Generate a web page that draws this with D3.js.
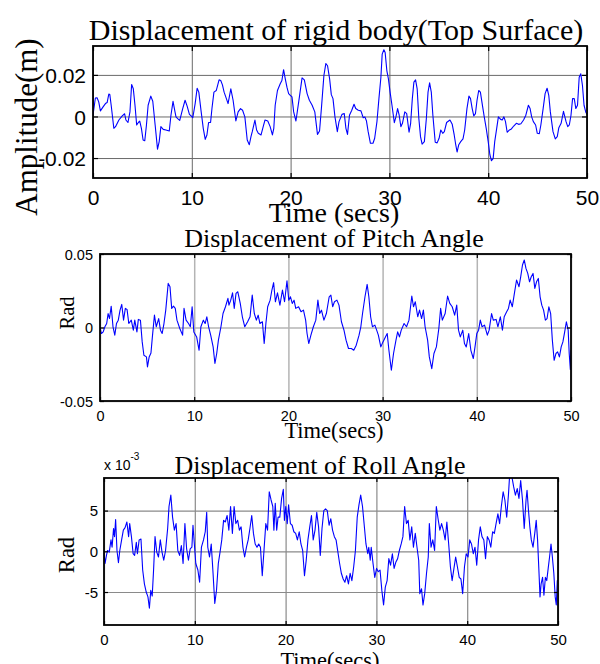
<!DOCTYPE html>
<html><head><meta charset="utf-8">
<script src="https://cdn.jsdelivr.net/npm/d3@7/dist/d3.min.js"></script>
<style>body{margin:0;background:#fff}svg{display:block}</style>
</head><body>
<svg id="chart" width="600" height="664"></svg>
<script>
// ---------- DATA ----------
// Top surface displacement, values in 1e-3 m
const topTime = [0.00,0.24,0.41,0.58,0.75,1.02,1.26,1.43,1.60,1.70,1.84,2.11,2.28,2.62,2.96,3.20,3.33,3.54,3.74,3.91,4.08,4.25,4.42,4.59,4.73,4.90,5.07,5.24,5.41,5.58,5.85,6.05,6.29,6.53,6.70,6.87,7.11,7.38,7.72,7.89,8.10,8.30,8.40,8.57,8.78,9.08,9.32,9.52,9.76,9.93,10.10,10.34,10.54,10.71,10.95,11.16,11.36,11.53,11.70,11.90,12.04,12.24,12.48,12.76,12.93,13.10,13.27,13.50,13.67,13.95,14.18,14.46,14.69,14.93,15.14,15.37,15.61,15.82,15.99,16.12,16.39,16.56,16.73,17.01,17.24,17.41,17.69,17.93,18.16,18.30,18.44,18.67,18.95,19.12,19.29,19.46,19.63,19.80,19.97,20.14,20.31,20.54,20.82,21.16,21.39,21.67,21.90,22.18,22.45,22.72,22.93,23.13,23.37,23.57,23.74,23.95,24.12,24.29,24.49,24.73,24.90,25.20,25.43,25.60,25.76,25.96,26.19,26.42,26.59,26.85,27.12,27.35,27.52,27.68,27.85,28.08,28.34,28.51,28.74,28.94,29.14,29.27,29.44,29.57,29.74,29.90,30.07,30.26,30.50,30.66,30.83,30.99,31.16,31.32,31.56,31.75,31.99,32.15,32.32,32.48,32.65,32.81,32.98,33.15,33.31,33.54,33.74,33.91,34.07,34.24,34.40,34.64,34.83,35.03,35.20,35.40,35.56,35.79,36.13,36.36,36.56,36.69,36.85,37.02,37.22,37.45,37.62,37.85,38.05,38.21,38.38,38.54,38.71,38.87,39.04,39.21,39.44,39.60,39.80,40.00,40.17,40.33,40.50,40.66,40.86,41.03,41.26,41.42,41.59,41.75,41.92,42.15,42.35,42.58,42.85,43.08,43.31,43.58,43.81,44.07,44.24,44.40,44.57,44.80,44.97,45.17,45.33,45.56,45.76,45.96,46.13,46.29,46.56,46.79,46.99,47.15,47.38,47.62,47.88,48.05,48.21,48.38,48.54,48.71,48.87,49.04,49.21,49.37,49.54,49.70,49.87,50.00];
const topDisp = [0.6,8.9,9.0,7.0,2.7,4.6,6.2,6.7,10.8,10.6,5.4,-5.7,-4.9,-1.7,0.3,1.3,-1.7,-2.9,2.2,15.4,13.3,5.4,-4.1,-2.9,-2.2,-5.7,-11.3,-11.7,-4.1,5.4,9.8,7.3,-4.1,-15.7,-12.1,-4.9,-6.2,-6.5,-7.0,0.6,7.3,2.2,-0.2,-1.0,-1.9,3.8,7.8,5.1,1.0,0.3,-0.6,6.2,13.6,11.7,2.2,-5.7,-11.0,-8.9,-2.9,-2.9,3.8,11.7,12.5,17.6,17.3,15.2,11.7,8.6,6.2,13.3,7.8,-2.1,2.2,3.8,3.0,-0.2,-11.3,-13.6,-9.7,-7.3,-1.7,-6.5,-8.1,-8.9,-4.6,-1.7,-2.2,-4.9,-8.9,-5.7,5.4,12.5,15.7,17.3,22.5,18.1,14.1,11.0,10.2,9.4,2.2,-2.2,7.0,18.6,17.6,11.0,7.8,5.4,2.2,-8.6,-7.0,4.6,19.7,25.5,24.4,18.1,10.5,8.6,-0.2,-7.3,-2.5,1.0,1.4,-5.7,-8.6,0.6,3.0,5.9,3.8,3.0,2.7,-0.6,-0.2,-2.2,-7.3,-12.9,-12.9,-10.5,-2.5,8.6,18.9,30.0,32.1,30.8,22.1,18.1,11.7,5.4,-3.0,-0.2,3.8,0.6,-4.9,-3.3,2.2,1.4,-7.6,-3.3,8.6,16.5,17.6,13.3,-1.0,-9.7,-13.3,-12.1,-1.0,11.7,16.2,11.7,0.6,-12.4,-12.7,-10.5,-6.5,-8.1,-7.3,-2.9,-1.7,-3.8,-8.9,-12.9,-17.1,-13.6,-12.1,-10.8,-6.5,3.8,9.8,8.6,3.8,0.3,1.4,7.8,12.5,11.7,4.6,-0.2,-5.7,-12.1,-18.4,-21.3,-20.3,-12.1,-5.7,-0.2,-1.4,-1.7,-0.2,-2.5,-7.6,-6.5,-6.0,-4.6,-3.3,-3.8,-3.5,-1.7,0.6,5.4,3.8,-0.2,-2.5,-4.1,-8.1,-8.3,-4.1,3.8,11.0,13.6,10.2,2.2,-7.3,-10.8,-9.7,-5.4,-3.3,2.5,-2.5,-4.9,-4.1,0.6,8.6,8.6,3.8,5.4,18.9,20.5,14.9,5.4,2.2,1.0];

// Pitch angle, values in 1e-3 rad
const pitchTime = [0.00,0.15,0.34,0.52,0.71,0.86,1.01,1.19,1.38,1.57,1.75,1.94,2.13,2.31,2.50,2.69,2.87,3.06,3.32,3.54,3.69,3.92,4.07,4.29,4.48,4.66,4.93,5.04,5.22,5.41,5.56,5.78,5.97,6.23,6.42,6.60,6.79,6.98,7.24,7.43,7.61,7.80,7.99,8.17,8.47,8.77,8.92,9.14,9.40,9.59,9.78,9.96,10.26,10.52,10.71,10.97,11.16,11.34,11.53,11.75,12.01,12.20,12.39,12.57,12.84,13.06,13.32,13.58,13.69,13.88,14.07,14.25,14.44,14.63,14.89,15.11,15.37,15.67,15.93,16.16,16.38,16.60,16.79,16.98,17.24,17.43,17.61,17.80,18.06,18.25,18.43,18.62,18.84,19.10,19.37,19.59,19.85,20.04,20.22,20.41,20.60,20.78,21.08,21.34,21.60,21.83,21.98,22.16,22.39,22.65,22.91,23.13,23.32,23.51,23.77,24.03,24.33,24.51,24.70,24.89,25.15,25.37,25.63,25.90,26.12,26.38,26.68,26.94,27.20,27.50,27.69,27.87,28.13,28.36,28.54,28.73,28.92,29.18,29.37,29.55,29.81,30.04,30.30,30.49,30.67,30.93,31.16,31.42,31.60,31.79,31.98,32.28,32.54,32.80,33.10,33.28,33.47,33.73,33.92,34.14,34.33,34.51,34.78,34.96,35.22,35.45,35.71,35.97,36.16,36.34,36.64,36.90,37.13,37.39,37.65,37.87,38.06,38.25,38.51,38.69,38.88,39.14,39.37,39.63,39.81,40.00,40.19,40.37,40.56,40.82,41.12,41.31,41.57,41.75,42.05,42.24,42.50,42.72,42.91,43.17,43.36,43.54,43.77,43.99,44.22,44.48,44.66,44.85,45.04,45.22,45.41,45.60,45.78,45.97,46.16,46.34,46.53,46.72,46.90,47.09,47.28,47.46,47.65,47.84,48.02,48.21,48.40,48.58,48.77,48.96,49.14,49.33,49.51,49.70,49.81,49.93,50.00];
const pitchAngle = [0,-4.1,-3.0,0.5,2.7,9.5,6.1,14.5,0.5,-5.2,2.7,5.0,11.8,15.7,5.0,13.0,12.3,2.7,5.0,-1.8,5.0,-3.0,5.5,5.0,-9.8,-18.9,-20.0,-26.8,-20.0,-17.3,-6.4,8.4,0.5,6.1,-1.8,-4.1,2.7,11.8,30.0,27.7,13.0,14.5,13.0,5.0,-0.7,-5.2,13.0,5.0,2.7,0.5,14.1,-3.0,-6.4,-15.5,0.5,5.0,2.7,7.3,0.5,-5.2,-13.2,-24.5,-17.7,-8.6,0.5,9.5,14.1,19.8,15.2,18.6,23.6,13.0,23.2,24.3,16.4,7.3,0.5,3.9,7.3,22.0,9.5,5.0,8.4,2.7,3.9,-10.9,2.7,14.1,18.6,25.5,30.5,17.5,23.6,15.2,25.5,17.5,31.8,18.6,20.9,16.4,18.6,13.0,14.1,10.7,11.8,5.0,-4.1,-10.9,-5.2,0.5,5.0,18.6,9.5,11.8,5.0,9.5,20.9,22.0,14.1,17.5,18.6,15.2,3.9,-1.8,-8.6,-14.3,-14.3,-15.5,-12.0,-5.2,0.5,9.5,20.9,29.3,20.9,7.3,0.5,1.6,-1.8,-5.2,-13.2,-9.8,-6.4,-4.1,-15.5,-29.1,-17.7,-8.6,-3.0,-6.4,-1.8,2.7,0.5,5.0,21.4,14.1,17.5,7.3,11.8,6.1,11.8,0.5,-8.6,-20.0,-28.0,-17.7,-13.2,-0.7,13.0,5.0,9.5,21.4,16.4,14.1,8.4,15.2,-1.8,-6.4,-1.8,-10.9,-13.2,-4.1,-15.5,-21.1,-13.2,-4.1,-1.8,5.0,0.5,1.6,-5.2,-1.8,9.5,5.0,5.5,0.5,7.3,-1.8,7.3,10.7,13.0,18.6,14.1,23.2,32.3,27.7,34.5,42.5,45.9,40.2,36.8,31.1,34.5,36.8,26.6,31.1,33.4,20.9,15.2,11.8,5.0,6.1,14.1,9.5,-8.6,-22.3,-17.7,-16.6,-20.0,-13.2,-9.8,-3.0,3.9,-1.8,-17.7,-28.6,-15.5];

// Roll angle, values in 1e-3 rad (axis shows x 10^-3)
const rollTime = [0.00,0.12,0.27,0.39,0.58,0.77,0.89,1.05,1.16,1.28,1.43,1.59,1.74,1.94,2.13,2.32,2.52,2.71,2.83,3.02,3.21,3.37,3.56,3.68,3.87,4.07,4.26,4.45,4.65,4.84,5.00,5.15,5.31,5.46,5.62,5.81,6.00,6.20,6.39,6.58,6.78,7.01,7.16,7.36,7.55,7.75,7.94,8.13,8.33,8.52,8.71,8.91,9.10,9.30,9.49,9.68,9.80,9.95,10.11,10.34,10.53,10.73,10.96,11.15,11.31,11.43,11.62,11.81,12.01,12.20,12.39,12.59,12.78,12.97,13.17,13.36,13.56,13.75,13.94,14.14,14.33,14.52,14.72,14.91,15.10,15.30,15.49,15.69,15.88,16.07,16.27,16.46,16.65,16.85,17.04,17.23,17.43,17.62,17.82,18.01,18.20,18.40,18.59,18.71,18.86,19.02,19.17,19.36,19.56,19.75,19.87,20.02,20.18,20.33,20.53,20.72,20.91,21.11,21.30,21.50,21.69,21.88,22.08,22.27,22.46,22.66,22.85,23.04,23.24,23.43,23.63,23.82,24.01,24.21,24.40,24.59,24.79,24.98,25.17,25.37,25.56,25.76,25.95,26.14,26.34,26.53,26.72,26.92,27.11,27.30,27.50,27.69,27.89,28.08,28.27,28.47,28.66,28.85,29.05,29.16,29.32,29.43,29.63,29.82,30.02,30.21,30.40,30.60,30.79,30.98,31.18,31.37,31.56,31.76,31.95,32.15,32.34,32.53,32.73,32.92,33.11,33.31,33.50,33.69,33.89,34.08,34.28,34.47,34.66,34.78,34.97,35.13,35.32,35.52,35.71,35.83,36.02,36.21,36.41,36.60,36.79,36.99,37.18,37.37,37.57,37.76,37.96,38.15,38.34,38.54,38.73,38.92,39.12,39.31,39.50,39.70,39.89,40.09,40.28,40.47,40.67,40.86,41.05,41.25,41.44,41.63,41.83,42.02,42.22,42.41,42.60,42.80,42.99,43.18,43.38,43.57,43.76,43.96,44.15,44.35,44.54,44.66,44.93,45.12,45.31,45.51,45.70,45.89,46.09,46.28,46.48,46.59,46.75,46.90,47.06,47.25,47.44,47.60,47.75,47.91,48.02,48.14,48.30,48.45,48.61,48.76,48.92,49.07,49.23,49.38,49.54,49.69,49.81,49.92,50.00];
const rollAngle = [0.0,-1.5,-0.5,0.1,-0.1,1.4,0.5,2.8,1.8,3.9,0.1,-1.4,0.1,1.4,2.6,2.9,3.6,1.8,3.4,1.8,-0.3,-0.5,1.1,-0.3,1.4,1.5,-2.3,-4.0,-5.0,-5.6,-7.0,-4.8,-5.5,-2.3,1.8,-0.1,-0.7,1.4,-0.1,-1.1,0.1,2.8,5.5,6.9,4.2,2.6,3.4,0.1,-0.5,0.7,-1.5,3.4,0.3,-1.1,0.3,0.5,3.2,0.9,-1.5,-2.3,-3.8,0.5,1.4,2.4,4.8,0.5,-0.7,0.9,-2.7,-6.4,-4.8,-1.5,-0.1,1.4,3.8,3.6,4.4,2.6,5.5,2.2,5.5,3.4,3.8,2.6,3.0,0.5,-0.7,0.5,1.4,2.8,4.4,2.2,0.9,0.5,0.9,0.5,-3.0,0.1,3.4,2.6,7.3,6.3,5.5,2.6,5.9,2.6,4.2,4.2,6.5,7.6,3.8,5.5,3.4,5.7,3.4,3.2,2.4,2.2,1.4,2.4,0.9,0.1,-3.0,-1.1,1.4,3.0,4.4,1.4,2.6,4.8,3.0,-0.5,2.8,5.0,5.2,5.0,3.2,4.0,2.6,1.8,1.4,-0.1,-1.5,-2.7,-3.4,-3.8,-3.0,-4.0,-2.7,-3.6,-1.9,0.1,4.2,5.7,6.9,5.5,3.2,0.9,-0.3,0.5,-1.1,0.5,-1.5,-3.2,-2.1,-2.5,-2.3,-4.8,-6.6,-4.4,-3.6,-0.9,-1.7,-0.3,-2.1,-1.3,-0.9,0.1,0.9,1.8,5.5,3.4,3.8,1.4,3.0,0.5,2.2,0.5,-1.1,-5.2,-4.6,-6.6,-5.2,-2.7,-0.7,3.4,0.5,1.4,0.1,5.5,4.0,2.6,3.4,2.6,1.4,3.6,0.9,-1.9,-3.6,-2.1,-0.7,-1.9,-3.2,-3.4,-5.2,-1.9,-0.3,-0.7,1.4,0.9,-0.3,0.5,-1.7,1.4,3.0,1.8,1.4,-0.9,1.8,1.4,0.5,2.4,2.2,3.4,4.6,3.4,5.5,7.3,6.3,4.2,6.9,9.1,9.1,7.9,6.9,7.7,6.5,8.7,6.3,2.8,6.3,7.5,5.0,3.0,1.4,0.5,2.2,3.8,1.4,-2.7,-5.6,-4.0,-3.2,-5.4,-3.2,-3.6,-2.1,-0.7,0.9,-0.7,-2.7,-5.6,-6.6,-3.6,-3.6];

const timeTicks = [0, 10, 20, 30, 40, 50];
const topYTicks = [-0.02, 0, 0.02];
const topYTickLabels = ["-0.02", "0", "0.02"];
const pitchYTicks = [-0.05, 0, 0.05];
const pitchYTickLabels = ["-0.05", "0", "0.05"];
const rollYTicks = [-5, 0, 5];
const rollYTickLabels = ["-5", "0", "5"];

const titles = ["Displacement of rigid body(Top Surface)", "Displacement of Pitch Angle", "Displacement of Roll Angle"];
const xLabels = ["Time (secs)", "Time(secs)", "Time(secs)"];
const yLabels = ["Amplitude(m)", "Rad", "Rad"];

// ---------- DRAWING ----------
const svg = d3.select("#chart");
svg.append("rect").attr("width", 600).attr("height", 664).attr("fill", "#fff");
const SERIF = "'Liberation Serif','Times New Roman',Times,serif";
const SANS = "'Liberation Sans',Arial,Helvetica,sans-serif";

function panel(cfg, idx) {
  const x = d3.scaleLinear().domain([0, 50]).range([cfg.L, cfg.R]);
  const y = d3.scaleLinear().domain(cfg.yDomain).range([cfg.B, cfg.T]);
  const w = cfg.R - cfg.L, h = cfg.B - cfg.T;
  const g = svg.append("g");

  // grid
  const gx = g.append("g").attr("transform", `translate(0,${cfg.B})`)
    .call(d3.axisBottom(x).tickValues(timeTicks).tickSize(-h).tickFormat(""));
  gx.select(".domain").remove();
  gx.selectAll("line").attr("stroke", cfg.gridColor).attr("stroke-width", cfg.gridWidth)
    .attr("stroke-dasharray", cfg.gridDash || null);
  const gy = g.append("g").attr("transform", `translate(${cfg.L},0)`)
    .call(d3.axisLeft(y).tickValues(cfg.yTicks).tickSize(-w).tickFormat(""));
  gy.select(".domain").remove();
  gy.selectAll("line").attr("stroke", cfg.gridColor).attr("stroke-width", cfg.gridWidth)
    .attr("stroke-dasharray", cfg.gridDash || null);

  // data line
  const clipId = "clip" + idx;
  svg.append("clipPath").attr("id", clipId).append("rect")
    .attr("x", cfg.L).attr("y", cfg.T).attr("width", w).attr("height", h);
  const pts = cfg.time.map((t, i) => [t, cfg.vals[i] * cfg.valScale]);
  g.append("path").datum(pts).attr("clip-path", `url(#${clipId})`)
    .attr("fill", "none").attr("stroke", "#0000ff").attr("stroke-width", 1.1)
    .attr("stroke-linejoin", "round")
    .attr("d", d3.line().x(d => x(d[0])).y(d => y(d[1])));

  // inner ticks on all four sides
  const tl = cfg.tickLen;
  const axB = g.append("g").attr("transform", `translate(0,${cfg.B})`)
    .call(d3.axisBottom(x).tickValues(timeTicks).tickSize(-tl).tickFormat(d => d));
  const axT = g.append("g").attr("transform", `translate(0,${cfg.T})`)
    .call(d3.axisTop(x).tickValues(timeTicks).tickSize(-tl).tickFormat(""));
  const axL = g.append("g").attr("transform", `translate(${cfg.L},0)`)
    .call(d3.axisLeft(y).tickValues(cfg.yTicks).tickSize(-tl).tickFormat((d, i) => cfg.yTickLabels[i]));
  const axR = g.append("g").attr("transform", `translate(${cfg.R},0)`)
    .call(d3.axisRight(y).tickValues(cfg.yTicks).tickSize(-tl).tickFormat(""));
  [axB, axT, axL, axR].forEach(a => {
    a.select(".domain").remove();
    a.selectAll("line").attr("stroke", "#000").attr("stroke-width", 1.2);
  });
  axB.selectAll("text").attr("y", cfg.xTickBase - cfg.B).attr("dy", null)
    .attr("font-family", SANS).attr("font-size", cfg.tickFont).attr("fill", "#000");
  axL.selectAll("text").attr("x", cfg.yTickEnd - cfg.L).attr("dy", "0.36em")
    .attr("font-family", SANS).attr("font-size", cfg.tickFont).attr("fill", "#000");

  // box
  g.append("rect").attr("x", cfg.L).attr("y", cfg.T).attr("width", w).attr("height", h)
    .attr("fill", "none").attr("stroke", "#000").attr("stroke-width", cfg.boxWidth);

  // texts
  g.append("text").attr("x", cfg.titleX).attr("y", cfg.titleY).attr("text-anchor", "middle")
    .attr("font-family", SERIF).attr("font-size", cfg.titleFont).text(titles[idx]);
  g.append("text").attr("x", cfg.xLabX).attr("y", cfg.xLabY).attr("text-anchor", "middle")
    .attr("font-family", SERIF).attr("font-size", cfg.xLabFont).text(xLabels[idx]);
  g.append("text").attr("transform", `translate(${cfg.yLabX},${cfg.yLabY}) rotate(-90)`)
    .attr("text-anchor", "middle")
    .attr("font-family", SERIF).attr("font-size", cfg.yLabFont).text(yLabels[idx]);
}

panel({L:93, R:587, T:46, B:178, yDomain:[-0.0296, 0.0339], yTicks:topYTicks, yTickLabels:topYTickLabels,
  time:topTime, vals:topDisp, valScale:0.001, gridColor:"#6a6a6a", gridWidth:1, gridDash:null,
  tickLen:5, tickFont:21, xTickBase:205, yTickEnd:86, boxWidth:1.8,
  titleX:336, titleY:40, titleFont:30, xLabX:334, xLabY:222, xLabFont:28,
  yLabX:37, yLabY:127, yLabFont:31}, 0);

panel({L:100, R:571, T:254, B:401, yDomain:[-0.05, 0.05], yTicks:pitchYTicks, yTickLabels:pitchYTickLabels,
  time:pitchTime, vals:pitchAngle, valScale:0.001, gridColor:"#b4b4b4", gridWidth:1.5, gridDash:null,
  tickLen:4, tickFont:14.5, xTickBase:421, yTickEnd:93, boxWidth:1.8,
  titleX:334, titleY:247, titleFont:26, xLabX:334, xLabY:438, xLabFont:22.5,
  yLabX:74, yLabY:313, yLabFont:20.5}, 1);

panel({L:104, R:558, T:478, B:625, yDomain:[-9.05, 9.0], yTicks:rollYTicks, yTickLabels:rollYTickLabels,
  time:rollTime, vals:rollAngle, valScale:1, gridColor:"#8a8a8a", gridWidth:1.2, gridDash:null,
  tickLen:4, tickFont:15, xTickBase:645, yTickEnd:98, boxWidth:1.8,
  titleX:320, titleY:474, titleFont:26, xLabX:330, xLabY:668, xLabFont:22.5,
  yLabX:74, yLabY:555, yLabFont:22.5}, 2);

// exponent marker for roll axis
const ex = svg.append("text").attr("x", 104).attr("y", 470)
  .attr("font-family", SANS).attr("font-size", 14).attr("fill", "#000");
ex.append("tspan").text("x 10");
ex.append("tspan").attr("font-size", 10).attr("dy", -10).text("-3");
</script>
</body></html>
